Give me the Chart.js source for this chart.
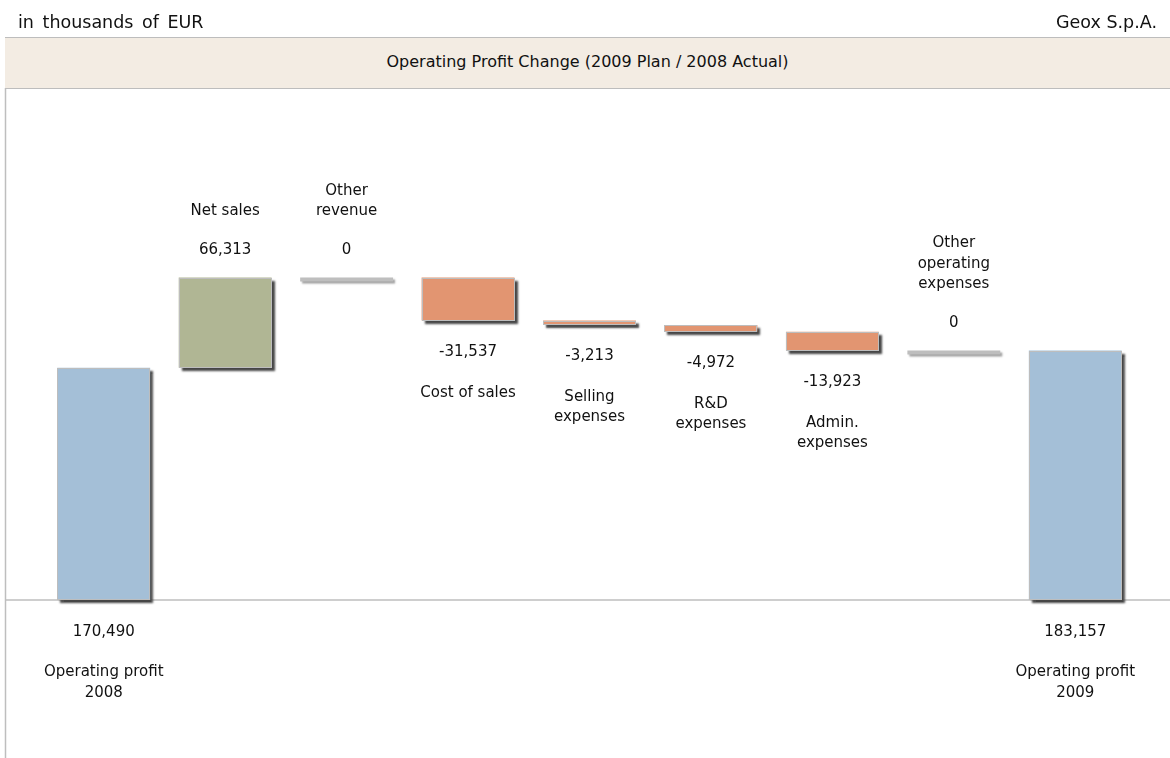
<!DOCTYPE html>
<html>
<head>
<meta charset="utf-8">
<title>Operating Profit Change</title>
<script src="https://cdn.jsdelivr.net/npm/chart.js@4.4.1/dist/chart.umd.min.js"></script>
<style>
    body { margin: 0; background: #fff; font-family: "DejaVu Sans", sans-serif; color: #111; }
    #wrap { position: relative; width: 1170px; height: 758px; overflow: hidden; }
    #chart { position: absolute; left: 0; top: 0; }
    .head { position: absolute; top: 13px; font-size: 17.5px; line-height: 18px; white-space: nowrap; }
    #unit { left: 18px; word-spacing: 3px; }
    #company { right: 13px; }
    #band {
        position: absolute; left: 5px; right: 0; top: 37px; height: 50px;
        background: #F3ECE3; border-top: 1px solid #BDBDBD; border-bottom: 1px solid #BDBDBD;
        text-align: center; font-size: 16px; line-height: 47px;
    }
</style>
</head>
<body>
<div id="wrap">
    <canvas id="chart" width="1170" height="758"></canvas>
    <div class="head" id="unit">in thousands of EUR</div>
    <div class="head" id="company">Geox S.p.A.</div>
    <div id="band">Operating Profit Change (2009 Plan / 2008 Actual)</div>
</div>
<script>
// Waterfall data (thousands of EUR)
const categories = [
    ["Operating profit", "2008"],
    ["Net sales"],
    ["Other", "revenue"],
    ["Cost of sales"],
    ["Selling", "expenses"],
    ["R&D", "expenses"],
    ["Admin.", "expenses"],
    ["Other", "operating", "expenses"],
    ["Operating profit", "2009"],
];
const values = [170490, 66313, 0, -31537, -3213, -4972, -13923, 0, 183157];
const isTotal = [true, false, false, false, false, false, false, false, true];

const COLOR_TOTAL = "#A4BFD7";
const COLOR_UP = "#B0B694";
const COLOR_DOWN = "#E29571";
const COLOR_ZERO = "#BEBEBE";

// floating [from, to] ranges for each bar
const ranges = [];
let running = 0;
values.forEach((v, i) => {
    if (isTotal[i]) {
        ranges.push([0, v]);
        running = v;
    } else {
        ranges.push([running, running + v]);
        running += v;
    }
});

const isZero = values.map((v, i) => v === 0 && !isTotal[i]);
const barRanges = ranges.map((r, i) => (isZero[i] ? null : r));
const zeroRanges = ranges.map((r, i) => (isZero[i] ? r : null));

const barColors = values.map((v, i) => {
    if (isTotal[i]) return COLOR_TOTAL;
    return v > 0 ? COLOR_UP : COLOR_DOWN;
});

const fmt = (n) => n.toLocaleString("en-US");

const waterfallDecor = {
    id: "waterfallDecor",
    beforeDatasetsDraw(chart) {
        const { ctx, chartArea, scales } = chart;
        const y0 = scales.y.getPixelForValue(0);
        ctx.save();
        ctx.strokeStyle = "#BEBEBE";
        ctx.lineWidth = 1.5;
        ctx.beginPath();
        ctx.moveTo(5, y0);
        ctx.lineTo(chart.width, y0);
        ctx.moveTo(5.5, chartArea.top);
        ctx.lineTo(5.5, chart.height);
        ctx.stroke();
        ctx.restore();
    },
    beforeDatasetDraw(chart, args) {
        // drop shadow for the bars
        const ctx = chart.ctx;
        ctx.save();
        ctx.shadowColor = args.index === 0 ? "rgba(70, 70, 70, 1)" : "rgba(160, 160, 160, 1)";
        ctx.shadowOffsetX = args.index === 0 ? 3 : 2;
        ctx.shadowOffsetY = args.index === 0 ? 3 : 2;
        ctx.shadowBlur = 2;
    },
    afterDatasetDraw(chart, args) {
        const ctx = chart.ctx;
        ctx.restore();
        if (args.index !== 0) return;
        // thin light outline round the main bars
        ctx.save();
        ctx.strokeStyle = "#BDBDBD";
        ctx.lineWidth = 1;
        args.meta.data.forEach((bar, i) => {
            if (barRanges[i] === null) return;
            const { x, y, base, width } = bar.getProps(["x", "y", "base", "width"], true);
            const t = Math.min(y, base);
            const h = Math.abs(base - y);
            ctx.strokeRect(Math.round(x - width / 2) + 0.5, Math.round(t) + 0.5, Math.round(width) - 1, Math.round(h) - 1);
        });
        ctx.restore();
    },
    afterDatasetsDraw(chart) {
        const { ctx, scales } = chart;
        ctx.save();
        ctx.font = "15px 'DejaVu Sans'";
        ctx.fillStyle = "#111";
        ctx.textAlign = "center";
        ctx.textBaseline = "alphabetic";
        const half = 5.5; // half cap height, to centre text on a y
        const lineGap = 20.5;

        categories.forEach((lines, i) => {
            const x = scales.x.getPixelForValue(i);
            const top = scales.y.getPixelForValue(Math.max(...ranges[i]));
            const bottom = scales.y.getPixelForValue(Math.min(...ranges[i]));
            const label = fmt(values[i]);

            if (isTotal[i] || values[i] < 0) {
                const vy = bottom + 30;
                ctx.fillText(label, x, vy + half);
                lines.forEach((ln, k) => {
                    ctx.fillText(ln, x, vy + 40.5 + k * lineGap + half);
                });
            } else {
                const vy = top - 29.5;
                ctx.fillText(label, x, vy + half);
                const last = vy - 38.5;
                lines.forEach((ln, k) => {
                    const off = (lines.length - 1 - k) * lineGap;
                    ctx.fillText(ln, x, last - off + half);
                });
            }
        });
        ctx.restore();
    },
};

new Chart(document.getElementById("chart"), {
    type: "bar",
    data: {
        labels: categories,
        datasets: [
            {
                data: barRanges,
                backgroundColor: barColors,
                borderWidth: 0,
            },
            {
                data: zeroRanges,
                backgroundColor: COLOR_ZERO,
                borderWidth: 0,
                minBarLength: 4,
            },
        ],
    },
    options: {
        responsive: false,
        animation: false,
        layout: { padding: { top: 88, bottom: 0, left: 43, right: 34 } },
        datasets: {
            bar: {
                grouped: false,
                barPercentage: 0.765,
                categoryPercentage: 1.0,
                clip: false,
            },
        },
        plugins: {
            legend: { display: false },
            tooltip: { enabled: false },
        },
        scales: {
            x: { display: false, offset: true },
            y: { display: false, min: -116000, max: 376000 },
        },
    },
    plugins: [waterfallDecor],
});
</script>
</body>
</html>
